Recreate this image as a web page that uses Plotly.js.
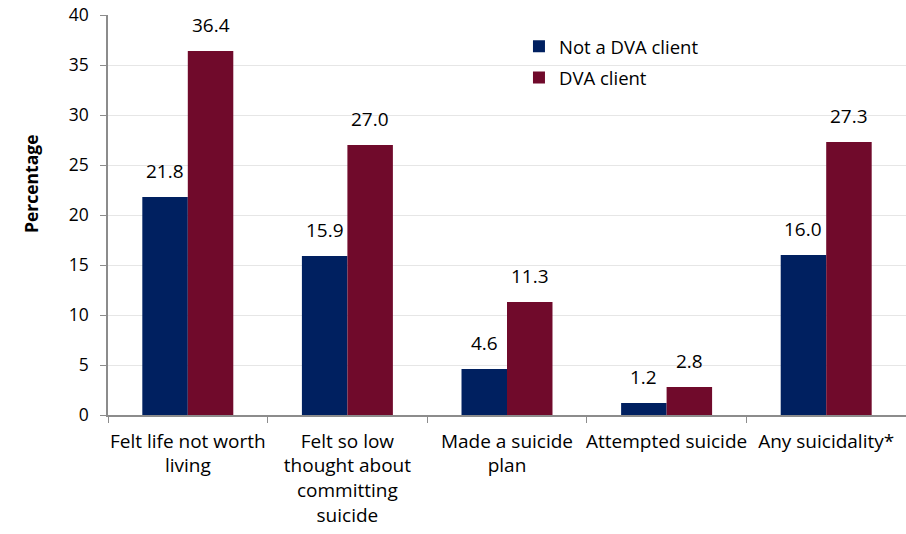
<!DOCTYPE html>
<html><head><meta charset="utf-8">
<script src="https://cdn.plot.ly/plotly-3.0.1.min.js"></script>
<style>body{margin:0}#c{width:906px;height:534px}</style>
</head><body><div id="c"></div>
<script>
const categories = ["Felt life not worth<br>living", "Felt so low<br>thought about<br>committing<br>suicide", "Made a suicide<br>plan", "Attempted suicide", "Any suicidality*"];
const notDVA = [21.8, 15.9, 4.6, 1.2, 16.0];
const dva = [36.4, 27.0, 11.3, 2.8, 27.3];
const seriesNames = ["Not a DVA client", "DVA client"];
const font = "Open Sans, Noto Sans, sans-serif";
const traces = [
  {type:"bar", name:seriesNames[0], x:categories, y:notDVA, marker:{color:"#002060"}, legendgroup:"a"},
  {type:"bar", name:seriesNames[1], x:categories, y:dva, marker:{color:"#700A2B"}, legendgroup:"b"}
];
const barShift = 22.8;
const annotations = [];
[notDVA, dva].forEach((vals, s) => {
  vals.forEach((v, i) => {
    annotations.push({x: categories[i], y: v, xref:"x", yref:"y", text: v.toFixed(1), showarrow:false,
      xshift: s === 0 ? -barShift : barShift, yanchor:"bottom", yshift: 11,
      font:{size:19, color:"#000", family:font}});
  });
});
annotations.push({xref:"paper", yref:"paper", x:-0.114, y:0.5775, text:"<b>Percentage</b>", textangle:-90,
  showarrow:false, font:{size:17.5, color:"#000", family:font}});
const layout = {
  width:906, height:534, margin:{l:108, r:0, t:15, b:119},
  font:{family:font, size:19, color:"#000"},
  paper_bgcolor:"#fff", plot_bgcolor:"#fff",
  barmode:"group", bargap:0.43, bargroupgap:0,
  showlegend:true,
  legend:{x:0.515, y:0.968, xanchor:"left", yanchor:"top", font:{size:18.5}, bgcolor:"rgba(0,0,0,0)",
          traceorder:"grouped", tracegroupgap:4, itemwidth:30},
  annotations: annotations,
  xaxis:{showline:true, linecolor:"#8c8c8c", linewidth:1.5, ticks:"outside", ticklen:6, tickcolor:"#8c8c8c",
         tickson:"boundaries", showgrid:false, tickfont:{size:19}, ticklabelstandoff:8, tickangle:0},
  yaxis:{range:[0,40], dtick:5, showline:true, linecolor:"#8c8c8c", linewidth:1.5, ticks:"outside", ticklen:6,
         tickcolor:"#8c8c8c", gridcolor:"#e6e6e6", gridwidth:1, zeroline:false, tickfont:{size:17.5},
         ticklabelstandoff:8}
};
Plotly.newPlot("c", traces, layout, {displayModeBar:false});
</script></body></html>
